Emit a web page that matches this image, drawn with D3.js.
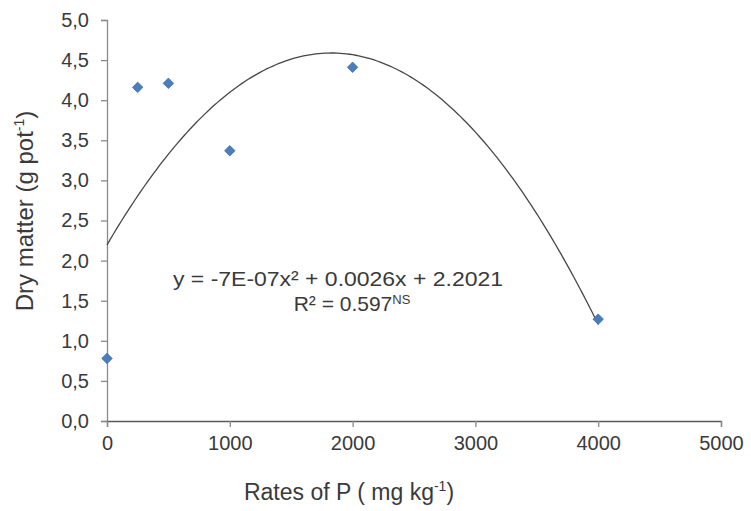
<!DOCTYPE html>
<html>
<head>
<meta charset="utf-8">
<script src="https://cdn.jsdelivr.net/npm/d3@7"></script>
<style>
  body { margin: 0; background: #fff; }
  svg text { font-family: Arial, "Liberation Sans", sans-serif; fill: #3a3a3a; }
</style>
</head>
<body>
<svg id="chart"></svg>
<script>
// Data
var rates = [0, 250, 500, 1000, 2000, 4000],        // P rate (mg/kg)
    dryMatter = [0.78, 4.16, 4.21, 3.37, 4.41, 1.27], // g/pot
    xTicks = [0, 1000, 2000, 3000, 4000, 5000],
    yTicks = [0, 0.5, 1, 1.5, 2, 2.5, 3, 3.5, 4, 4.5, 5],
    eqLine1 = "y = -7E-07x² + 0.0026x + 2.2021",
    eqR2 = "R² = 0.597";

var w = 751, h = 511;

var svg = d3.select("#chart")
    .attr("width", w)
    .attr("height", h);

var x = d3.scaleLinear().domain([0, 5000]).range([107, 721]);
var y = d3.scaleLinear().domain([0, 5]).range([421, 20]);

var axisColor = "#8a8a8a";
var fmt = function (d) { return d3.format(".1f")(d).replace(".", ","); };

// quadratic least squares trendline (x in thousands), like Excel's poly 2
function polyFit(xs, ys) {
    var S = [0, 0, 0, 0, 0], T = [0, 0, 0];
    xs.forEach(function (v, i) {
        var t = v / 1000;
        for (var k = 0; k < 5; k++) S[k] += Math.pow(t, k);
        for (var k = 0; k < 3; k++) T[k] += ys[i] * Math.pow(t, k);
    });
    var A = [[S[0], S[1], S[2], T[0]], [S[1], S[2], S[3], T[1]], [S[2], S[3], S[4], T[2]]];
    for (var i = 0; i < 3; i++) {
        for (var j = i + 1; j < 3; j++) {
            var f = A[j][i] / A[i][i];
            for (var k = i; k < 4; k++) A[j][k] -= f * A[i][k];
        }
    }
    var c = [0, 0, 0];
    for (var i = 2; i >= 0; i--) {
        var s = A[i][3];
        for (var k = i + 1; k < 3; k++) s -= A[i][k] * c[k];
        c[i] = s / A[i][i];
    }
    return function (v) { var t = v / 1000; return c[0] + c[1] * t + c[2] * t * t; };
}
var trend = polyFit(rates, dryMatter);

// y axis
var yAxis = svg.append("g")
    .attr("transform", "translate(" + x(0) + ",0)")
    .call(d3.axisLeft(y).tickValues(yTicks).tickSize(6).tickPadding(12).tickFormat(fmt));

// x axis
var xAxis = svg.append("g")
    .attr("transform", "translate(0," + y(0) + ")")
    .call(d3.axisBottom(x).tickValues(xTicks).tickSize(6).tickPadding(9).tickFormat(d3.format("d")));

[yAxis, xAxis].forEach(function (a) {
    a.select(".domain").attr("stroke", axisColor).attr("stroke-width", 1.3);
    a.selectAll(".tick line").attr("stroke", axisColor).attr("stroke-width", 1.3);
    a.selectAll(".tick text")
        .style("font-size", "20px")
        .attr("fill", "#3a3a3a");
});
xAxis.select(".domain").attr("stroke", "#5a5a5a");

// trendline over the data range
var curveX = d3.range(0, 4001, 25);
var line = d3.line()
    .x(function (d) { return x(d); })
    .y(function (d) { return y(trend(d)); });

svg.append("path")
    .datum(curveX)
    .attr("d", line)
    .attr("fill", "none")
    .attr("stroke", "#474747")
    .attr("stroke-width", 1.3);

// diamond markers
var diamond = d3.symbol().type(d3.symbolDiamond2).size(70);
svg.selectAll(".pt")
    .data(rates)
    .enter()
    .append("path")
    .attr("class", "pt")
    .attr("d", diamond)
    .attr("transform", function (d, i) { return "translate(" + x(d) + "," + y(dryMatter[i]) + ")"; })
    .attr("fill", "#4a7ebb")
    .attr("stroke", "#3f6fa8")
    .attr("stroke-width", 0.8);

// equation
var eq = svg.append("g").style("font-size", "20px");
eq.append("text")
    .attr("x", 338).attr("y", 286)
    .attr("text-anchor", "middle")
    .attr("textLength", 330)
    .attr("lengthAdjust", "spacingAndGlyphs")
    .text(eqLine1);
var r2 = eq.append("text")
    .attr("x", 352).attr("y", 311)
    .attr("text-anchor", "middle")
    .style("font-size", "21px")
    .text(eqR2);
r2.append("tspan").attr("dy", -7).style("font-size", "13px").text("NS");

// axis titles
var xt = svg.append("text")
    .attr("x", 349).attr("y", 500)
    .attr("text-anchor", "middle")
    .style("font-size", "23px")
    .text("Rates of P ( mg kg");
xt.append("tspan").attr("dy", -9).style("font-size", "14px").text("-1");
xt.append("tspan").attr("dy", 9).text(")");

var yt = svg.append("text")
    .attr("transform", "translate(33,211) rotate(-90)")
    .attr("text-anchor", "middle")
    .style("font-size", "24px")
    .text("Dry matter (g pot");
yt.append("tspan").attr("dy", -9).style("font-size", "14px").text("-1");
yt.append("tspan").attr("dy", 9).text(")");
</script>
</body>
</html>
